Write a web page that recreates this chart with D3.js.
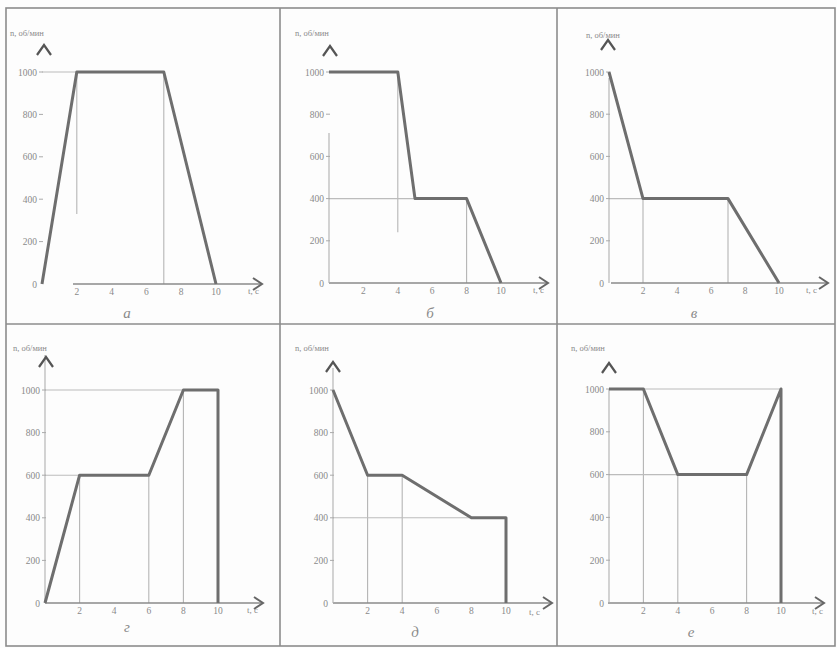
<!DOCTYPE html>
<html>
<head>
<meta charset="utf-8">
<script src="https://cdn.jsdelivr.net/npm/d3@7"></script>
<style>
  html, body { margin: 0; padding: 0; background: #fdfdfd; }
  svg { display: block; }
  text { font-family: "Liberation Serif", "DejaVu Serif", serif; fill: #8a8a8a; }
</style>
</head>
<body>
<svg id="chart" width="837" height="648"></svg>
<script>
// ---------- data ----------
const panelLabels = ["а", "б", "в", "г", "д", "е"];
const yTitle = "n, об/мин";
const xTitle = "t, c";
const yTicks = [0, 200, 400, 600, 800, 1000];
const xTicks = [2, 4, 6, 8, 10];

const seriesA = [[0, 0], [2, 1000], [7, 1000], [10, 0]];
const seriesB = [[0, 1000], [4, 1000], [5, 400], [8, 400], [10, 0]];
const seriesV = [[0, 1000], [2, 400], [7, 400], [10, 0]];
const seriesG = [[0, 0], [2, 600], [6, 600], [8, 1000], [10, 1000], [10, 0]];
const seriesD = [[0, 1000], [2, 600], [4, 600], [8, 400], [10, 400], [10, 0]];
const seriesE = [[0, 1000], [2, 1000], [4, 600], [8, 600], [10, 1000], [10, 0]];

// guide lines: vertical [t, nFrom, nTo], horizontal [n, tFrom, tTo]
const vGuidesA = [[2, 1000, 330], [7, 1000, 0]];
const hGuidesA = [[1000, 0, 2]];
const vGuidesB = [[4, 1000, 240], [8, 400, 0]];
const hGuidesB = [[400, 0, 8]];
const vGuidesV = [[2, 400, 0], [7, 400, 0]];
const hGuidesV = [[400, 0, 2]];
const vGuidesG = [[2, 600, 0], [6, 600, 0], [8, 1000, 0]];
const hGuidesG = [[600, 0, 2], [1000, 0, 8]];
const vGuidesD = [[2, 600, 0], [4, 600, 0]];
const hGuidesD = [[400, 0, 8]];
const vGuidesE = [[2, 1000, 0], [4, 600, 0], [8, 600, 0]];
const hGuidesE = [[600, 0, 4], [1000, 2, 10]];

const panelSeries = [seriesA, seriesB, seriesV, seriesG, seriesD, seriesE];
const panelV = [vGuidesA, vGuidesB, vGuidesV, vGuidesG, vGuidesD, vGuidesE];
const panelH = [hGuidesA, hGuidesB, hGuidesV, hGuidesG, hGuidesD, hGuidesE];

// ---------- layout (pixels) ----------
const layout = [
  { x0: 42,  x10: 216, y0: 284, y1: 72,  axStart: 73,  xTip: 262, yAxTop: null, yTip: [44, 45],   title: [10, 36],  xt: [248, 294], letter: [127, 318] },
  { x0: 329, x10: 501, y0: 283, y1: 72,  axStart: 329, xTip: 548, yAxTop: 133,  yTip: [330, 46],  title: [295, 36], xt: [533, 293], letter: [430, 318] },
  { x0: 609, x10: 779, y0: 283, y1: 72,  axStart: 611, xTip: 828, yAxTop: 78,   yTip: [608, 40],  title: [586, 38], xt: [806, 293], letter: [694, 318] },
  { x0: 45,  x10: 218, y0: 603, y1: 390, axStart: 45,  xTip: 263, yAxTop: 355,  yTip: [46, 357],  title: [13, 351], xt: [247, 613], letter: [127, 632] },
  { x0: 333, x10: 506, y0: 603, y1: 390, axStart: 333, xTip: 552, yAxTop: 368,  yTip: [333, 362], title: [295, 351], xt: [529, 615], letter: [415, 637] },
  { x0: 609, x10: 781, y0: 603, y1: 389, axStart: 608, xTip: 824, yAxTop: 389,  yTip: [609, 363], title: [571, 351], xt: [812, 614], letter: [691, 637] }
];

const svg = d3.select("#chart");

// frame
const frame = svg.append("g").attr("stroke", "#8c8c8c").attr("stroke-width", 1.6).attr("fill", "none");
frame.append("rect").attr("x", 6).attr("y", 8).attr("width", 829).attr("height", 638);
frame.append("line").attr("x1", 6).attr("x2", 835).attr("y1", 324).attr("y2", 324);
frame.append("line").attr("x1", 280).attr("x2", 280).attr("y1", 8).attr("y2", 646);
frame.append("line").attr("x1", 557).attr("x2", 557).attr("y1", 8).attr("y2", 646);

layout.forEach((L, i) => {
  const g = svg.append("g");
  const x = d3.scaleLinear().domain([0, 10]).range([L.x0, L.x10]);
  const y = d3.scaleLinear().domain([0, 1000]).range([L.y0, L.y1]);

  // guide lines
  g.selectAll("line.vg").data(panelV[i]).join("line")
    .attr("x1", d => x(d[0])).attr("x2", d => x(d[0]))
    .attr("y1", d => y(d[1])).attr("y2", d => y(d[2]))
    .attr("stroke", "#b4b4b4").attr("stroke-width", 1.1);
  g.selectAll("line.hg").data(panelH[i]).join("line")
    .attr("y1", d => y(d[0])).attr("y2", d => y(d[0]))
    .attr("x1", d => x(d[1])).attr("x2", d => x(d[2]))
    .attr("stroke", "#bcbcbc").attr("stroke-width", 1.1);

  // x axis line
  g.append("line").attr("x1", L.axStart).attr("x2", L.xTip - 1)
    .attr("y1", L.y0).attr("y2", L.y0)
    .attr("stroke", "#8a8a8a").attr("stroke-width", 1.3);
  // x arrow
  g.append("path")
    .attr("d", `M${L.xTip - 9},${L.y0 - 6} L${L.xTip},${L.y0} L${L.xTip - 9},${L.y0 + 6}`)
    .attr("fill", "none").attr("stroke", "#666").attr("stroke-width", 2);

  // y axis line
  if (L.yAxTop !== null) {
    g.append("line").attr("x1", x(0)).attr("x2", x(0))
      .attr("y1", L.yAxTop).attr("y2", L.y0)
      .attr("stroke", "#b0b0b0").attr("stroke-width", 1.1);
  }
  // y arrow
  g.append("path")
    .attr("d", `M${L.yTip[0] - 7},${L.yTip[1] + 10} L${L.yTip[0]},${L.yTip[1]} L${L.yTip[0] + 7},${L.yTip[1] + 10}`)
    .attr("fill", "none").attr("stroke", "#555").attr("stroke-width", 2.2);

  // y ticks + labels
  g.selectAll("line.yt").data(yTicks.filter(v => v > 0)).join("line")
    .attr("x1", x(0) - 3).attr("x2", x(0) + 1)
    .attr("y1", d => y(d)).attr("y2", d => y(d))
    .attr("stroke", "#aaa").attr("stroke-width", 1);
  g.selectAll("text.yl").data(yTicks).join("text")
    .attr("x", x(0) - 5).attr("y", d => y(d) + 3.5)
    .attr("text-anchor", "end").attr("font-size", 9.5)
    .text(d => d);

  // x ticks + labels
  g.selectAll("text.xl").data(xTicks).join("text")
    .attr("x", d => x(d)).attr("y", L.y0 + 11)
    .attr("text-anchor", "middle").attr("font-size", 9.5)
    .text(d => d);

  // titles
  g.append("text").attr("x", L.title[0]).attr("y", L.title[1])
    .attr("font-size", 8.5).text(yTitle);
  g.append("text").attr("x", L.xt[0]).attr("y", L.xt[1])
    .attr("font-size", 9).text(xTitle);
  g.append("text").attr("x", L.letter[0]).attr("y", L.letter[1])
    .attr("font-size", 15).attr("font-style", "italic").attr("text-anchor", "middle")
    .text(panelLabels[i]);

  // main line
  g.append("path").datum(panelSeries[i])
    .attr("d", d3.line().x(d => x(d[0])).y(d => y(d[1])))
    .attr("fill", "none").attr("stroke", "#6e6e6e").attr("stroke-width", 3)
    .attr("stroke-linejoin", "round");
});
</script>
</body>
</html>
